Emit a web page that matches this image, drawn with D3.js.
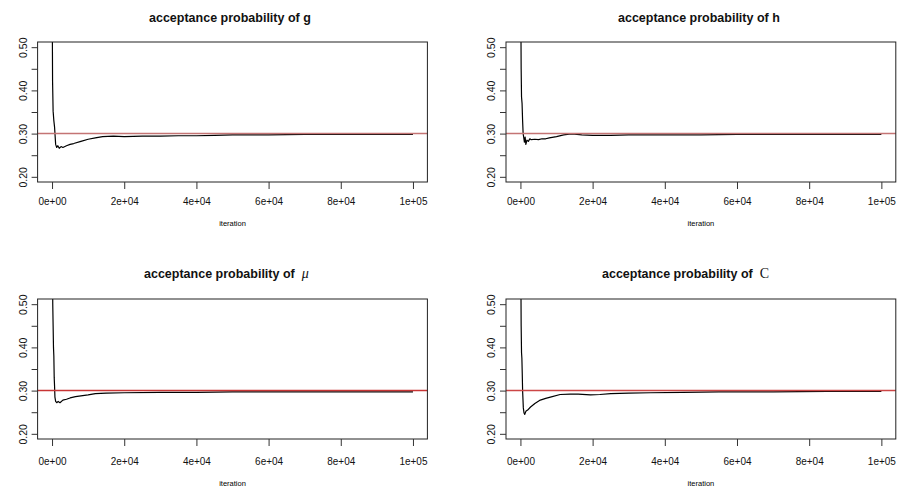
<!DOCTYPE html>
<html>
<head>
<meta charset="utf-8">
<script src="https://cdn.jsdelivr.net/npm/d3@7"></script>
<style>
body { margin: 0; background: #fff; }
svg { display: block; }
</style>
</head>
<body>
<div class="chart"></div>
<script>
// running acceptance rates (iteration, rate)
var gIter = [1, 50, 150, 300, 500, 700, 1000, 1300, 1600, 2000, 2500, 3000, 4000, 5000, 6000, 8000, 10000, 12000, 14000, 17000, 20000, 25000, 30000, 35000, 40000, 45000, 50000, 60000, 70000, 80000, 90000, 100000];
var gRate = [1.0, 0.60, 0.42, 0.352, 0.33, 0.315, 0.275, 0.268, 0.272, 0.266, 0.270, 0.268, 0.272, 0.275, 0.277, 0.282, 0.287, 0.290, 0.293, 0.294, 0.293, 0.294, 0.294, 0.295, 0.295, 0.296, 0.297, 0.297, 0.298, 0.298, 0.298, 0.298];

var hIter = [1, 100, 200, 300, 450, 600, 750, 900, 1100, 1300, 1500, 1800, 2200, 2600, 3000, 4000, 5000, 6000, 7000, 8000, 10000, 12000, 13500, 15000, 17000, 20000, 25000, 30000, 40000, 50000, 60000, 80000, 100000];
var hRate = [1.0, 0.60, 0.45, 0.385, 0.37, 0.33, 0.30, 0.292, 0.280, 0.292, 0.275, 0.285, 0.282, 0.288, 0.286, 0.287, 0.286, 0.288, 0.288, 0.290, 0.293, 0.297, 0.299, 0.299, 0.297, 0.296, 0.296, 0.297, 0.297, 0.297, 0.298, 0.298, 0.298];

var muIter = [1, 100, 200, 300, 400, 500, 600, 700, 800, 1000, 1300, 1700, 2200, 3000, 4000, 5000, 6500, 8000, 10000, 12000, 15000, 20000, 30000, 40000, 50000, 60000, 80000, 100000];
var muRate = [1.0, 0.62, 0.50, 0.45, 0.40, 0.38, 0.33, 0.31, 0.285, 0.275, 0.272, 0.275, 0.272, 0.278, 0.280, 0.283, 0.286, 0.288, 0.290, 0.293, 0.294, 0.295, 0.296, 0.296, 0.297, 0.297, 0.297, 0.297];

var cIter = [1, 100, 200, 300, 400, 500, 600, 800, 1000, 1200, 1500, 2000, 2800, 4000, 5500, 7000, 8300, 11000, 13800, 16000, 19400, 22000, 25000, 30000, 36000, 45000, 55000, 70000, 85000, 100000];
var cRate = [1.0, 0.60, 0.45, 0.388, 0.375, 0.34, 0.30, 0.26, 0.248, 0.245, 0.252, 0.255, 0.262, 0.270, 0.278, 0.282, 0.285, 0.291, 0.292, 0.292, 0.290, 0.291, 0.293, 0.294, 0.295, 0.296, 0.297, 0.297, 0.298, 0.298];

var xTicks = [0, 20000, 40000, 60000, 80000, 100000];
var xTickLabels = ["0e+00", "2e+04", "4e+04", "6e+04", "8e+04", "1e+05"];
var yTicks = [0.20, 0.25, 0.30, 0.35, 0.40, 0.45, 0.50];
var yTickLabels = ["0.20", "", "0.30", "", "0.40", "", "0.50"];
var target = 0.3;

var sans = "'Liberation Sans', Arial, sans-serif";
var serif = "'Liberation Serif', 'Times New Roman', serif";

var panels = [
  {sym: "g", symFont: sans, symStyle: "normal", symWeight: "bold", iter: gIter, rate: gRate,
   left: 37.6, top: 42, titleX: 149, titleY: 21.5, labY: 23, xlabY: 44, ref: "#c47474"},
  {sym: "h", symFont: sans, symStyle: "normal", symWeight: "bold", iter: hIter, rate: hRate,
   left: 506, top: 42, titleX: 618, titleY: 21.5, labY: 23, xlabY: 44, ref: "#c47474"},
  {sym: "\u00a0\u03bc", symFont: serif, symStyle: "italic", symWeight: "normal", iter: muIter, rate: muRate,
   left: 37.6, top: 299, titleX: 144, titleY: 278, labY: 25.5, xlabY: 47, ref: "#c83434"},
  {sym: "\u00a0C", symFont: serif, symStyle: "normal", symWeight: "normal", iter: cIter, rate: cRate,
   left: 506, top: 299, titleX: 602, titleY: 278, labY: 25.5, xlabY: 47, ref: "#cc4646"}
];

var W = 897, H = 491;
var pw = 389.8, ph = 140;

var svg = d3.select(".chart").append("svg")
    .attr("width", W)
    .attr("height", H);

panels.forEach(function(p, i) { drawPanel(p, i); });

function drawPanel(p, idx) {
  var x = d3.scaleLinear()
      .domain([-4000, 104000])
      .range([0, pw]);
  var y = d3.scaleLinear()
      .domain([0.188, 0.512])
      .range([ph, 0]);

  var g = svg.append("g")
      .attr("transform", "translate(" + p.left + "," + p.top + ")");

  g.append("clipPath")
      .attr("id", "clip" + idx)
    .append("rect")
      .attr("width", pw)
      .attr("height", ph);

  var pts = p.iter.map(function(d, i) { return [d, p.rate[i]]; });
  var line = d3.line()
      .x(function(d) { return x(d[0]); })
      .y(function(d) { return y(d[1]); });

  g.append("path")
      .datum(pts)
      .attr("clip-path", "url(#clip" + idx + ")")
      .attr("d", line)
      .attr("fill", "none")
      .attr("stroke", "#000")
      .attr("stroke-width", 1.2)
      .attr("stroke-linejoin", "round");

  g.append("line")
      .attr("x1", 0)
      .attr("x2", pw)
      .attr("y1", y(target))
      .attr("y2", y(target))
      .attr("stroke", p.ref)
      .attr("stroke-width", 1.5);

  g.append("rect")
      .attr("width", pw)
      .attr("height", ph)
      .attr("fill", "none")
      .attr("stroke", "#222")
      .attr("stroke-width", 1);

  var xAxis = d3.axisBottom(x)
      .tickValues(xTicks)
      .tickSize(7)
      .tickFormat(function(d, i) { return xTickLabels[i]; });
  var gx = g.append("g")
      .attr("transform", "translate(0," + ph + ")")
      .call(xAxis);
  gx.select(".domain").remove();
  gx.selectAll(".tick line").attr("stroke", "#333");
  gx.selectAll(".tick text")
      .attr("y", p.labY)
      .attr("dy", 0)
      .attr("fill", "#111")
      .attr("font-family", sans)
      .attr("font-size", 10)
      .attr("textLength", 28)
      .attr("lengthAdjust", "spacingAndGlyphs");

  var yAxis = d3.axisLeft(y)
      .tickValues(yTicks)
      .tickSize(6)
      .tickFormat(function(d, i) { return yTickLabels[i]; });
  var gy = g.append("g").call(yAxis);
  gy.select(".domain").remove();
  gy.selectAll(".tick line").attr("stroke", "#333");
  gy.selectAll(".tick text")
      .attr("transform", "rotate(-90)")
      .attr("x", 0)
      .attr("y", -11)
      .attr("dy", 0)
      .attr("text-anchor", "middle")
      .attr("fill", "#111")
      .attr("font-family", sans)
      .attr("font-size", 10.5);

  g.append("text")
      .attr("x", pw / 2)
      .attr("y", ph + p.xlabY)
      .attr("text-anchor", "middle")
      .attr("font-family", sans)
      .attr("font-size", 7.5)
      .attr("fill", "#000")
      .text("iteration");

  var t = svg.append("text")
      .attr("x", p.titleX)
      .attr("y", p.titleY)
      .attr("font-family", sans)
      .attr("font-size", 12.5)
      .attr("font-weight", "bold")
      .attr("fill", "#111");
  t.append("tspan").text("acceptance probability of ");
  t.append("tspan")
      .attr("font-family", p.symFont)
      .attr("font-style", p.symStyle)
      .attr("font-weight", p.symWeight)
      .attr("font-size", p.symFont == serif ? 14 : 12.5)
      .text(p.sym);
}
</script>
</body>
</html>
